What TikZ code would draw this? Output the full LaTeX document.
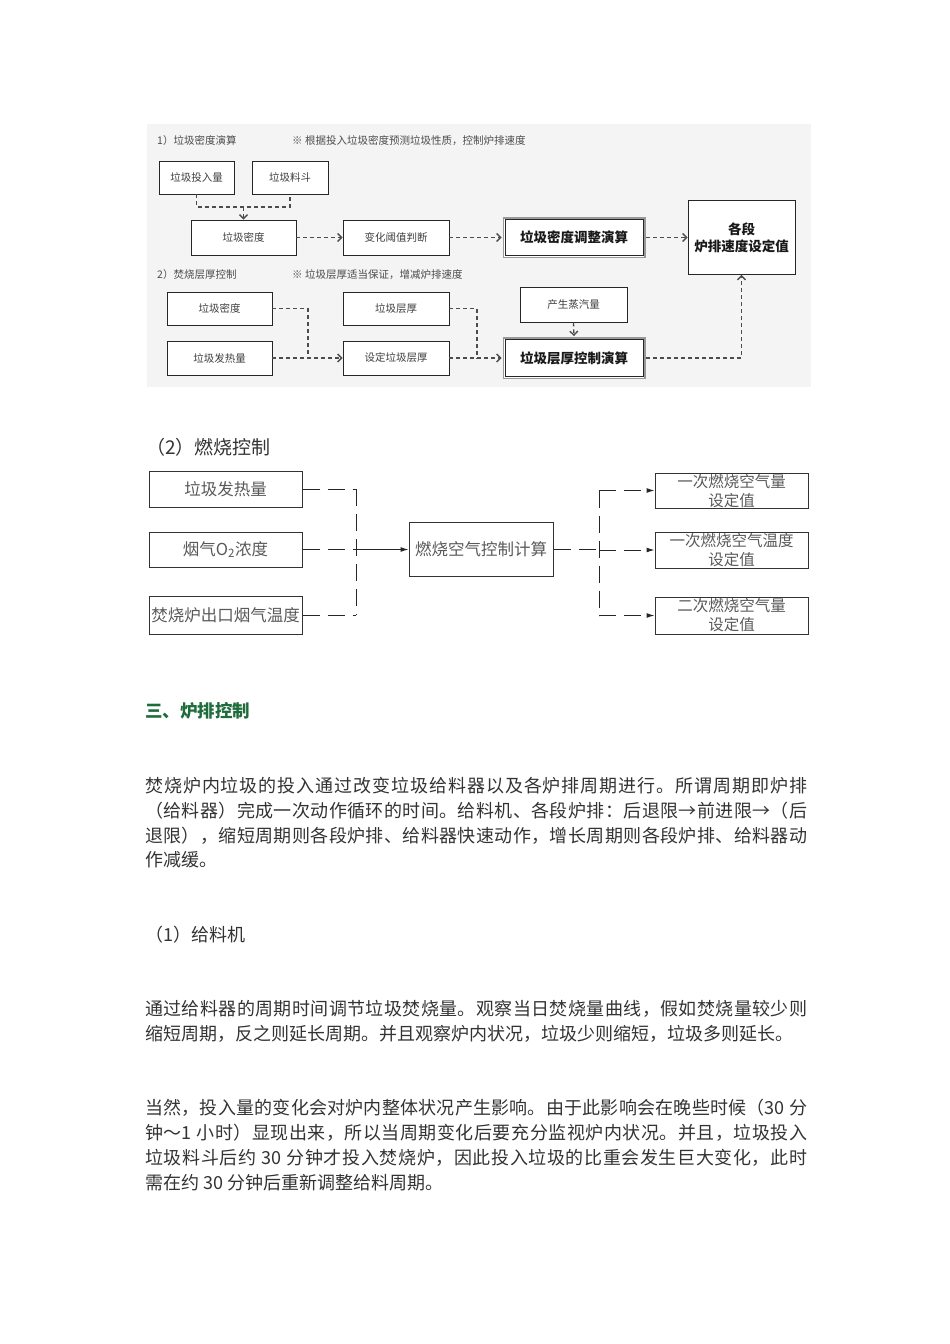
\documentclass[tikz,border=0pt]{standalone}
\usepackage{fontspec}
\setmainfont{Noto Sans CJK SC}
\usetikzlibrary{arrows.meta}

\definecolor{verde}{HTML}{1E6B3C}
\definecolor{sfondo}{HTML}{F4F4F4}

% classi dei caratteri CJK per le righe giustificate
\newcount\cc
\cc="4E00
\loop \XeTeXcharclass\cc=1 \advance\cc by 1 \ifnum\cc<"A000 \repeat
\XeTeXcharclass"3001=1 \XeTeXcharclass"3002=1 \XeTeXcharclass"FF0C=1
\XeTeXcharclass"FF1A=1 \XeTeXcharclass"FF5E=1 \XeTeXcharclass"2192=1
\XeTeXcharclass"FF08=2 \XeTeXcharclass"FF09=3
\XeTeXinterchartoks 1 1 = {\hskip 0pt plus 1pt}
\XeTeXinterchartoks 1 2 = {\hskip 0pt plus 1pt}
\XeTeXinterchartoks 1 3 = {\hskip 0pt plus 1pt}
\XeTeXinterchartoks 3 1 = {\hskip 0pt plus 1pt}
\XeTeXinterchartoks 3 2 = {\hskip 0pt plus 1pt}
\XeTeXinterchartoks 3 3 = {\hskip 0pt plus 1pt}
\XeTeXinterchartoks 2 1 = {\hskip 0pt plus 1pt}
\newcommand\riga[1]{\makebox[662pt][s]{\XeTeXinterchartokenstate=1 #1}}

\begin{document}
\begin{tikzpicture}[x=1pt, y=-1pt,
  tbox/.style={draw=black!85, line width=0.9pt, fill=white, inner sep=0pt, text=black!75, font=\fontsize{10.5}{12}\selectfont},
  dbox/.style={tbox, preaction={draw=black!40, line width=5pt}, preaction={draw=white, line width=2pt}, text=black!90, font=\fontsize{13.5}{16}\selectfont\bfseries},
  tline/.style={draw=black!70, line width=1.3pt, dash pattern=on 4pt off 3pt},
  tarrow/.style={tline, -{Straight Barb[length=4pt,width=8pt]}},
  cbox/.style={draw=black!80, line width=1pt, inner sep=0pt, text=black!65, font=\fontsize{16.5}{18}\selectfont},
  cline/.style={draw=black!85, line width=1pt, dash pattern=on 17pt off 8pt},
  carrow/.style={cline, -{Latex[length=8pt,width=5pt]}},
  nota/.style={anchor=west, inner sep=0pt, text=black!70, font=\fontsize{10.5}{12}\selectfont},
  testo/.style={anchor=west, inner sep=0pt, text=black!80, font=\fontsize{18}{25}\selectfont}]
\useasboundingbox (0,0) rectangle (950,1344);

% Sfondo del primo schema
\fill[sfondo] (147,124) rectangle (811,387);

% 1) densita
\node[nota] (tit1) at (157,141) {1）垃圾密度演算};
\node[nota] (not1) at (292,141) {※ 根据投入垃圾密度预测垃圾性质，控制炉排速度};
\node[tbox, minimum width=75, minimum height=33] (inAmt) at (196.5,177.5) {垃圾投入量};
\node[tbox, minimum width=76, minimum height=33] (hopper) at (290,177.5) {垃圾料斗};
\node[tbox, minimum width=105, minimum height=35] (dens) at (243.5,237.5) {垃圾密度};
\node[tbox, minimum width=106, minimum height=35] (judge) at (396,237.5) {变化阈值判断};
\node[dbox, minimum width=138, minimum height=36] (densCalc) at (574,237.5) {垃圾密度调整演算};
\node[tbox, minimum width=107, minimum height=74, align=center, text=black!90,
  font=\fontsize{13.5}{17}\selectfont\bfseries] (speed) at (741.5,237.5) {各段\\炉排速度设定值};
\coordinate (j1) at (243.5,207);
\draw[tline] (inAmt.south) -- (inAmt.south |- j1) -- (hopper.south |- j1) -- (hopper.south);
\draw[tarrow] (j1) -- (dens.north);
\draw[tarrow] (dens.east) -- (judge.west);
\draw[tarrow] (judge.east) -- ([xshift=-3pt]densCalc.west);
\draw[tarrow] ([xshift=3pt]densCalc.east) -- (speed.west);

% 2) spessore strato
\node[nota] (tit2) at (157,275) {2）焚烧层厚控制};
\node[nota] (not2) at (292,275) {※ 垃圾层厚适当保证，增减炉排速度};
\node[tbox, minimum width=105, minimum height=33] (dens2) at (219.5,308.5) {垃圾密度};
\node[tbox, minimum width=105, minimum height=34] (heat) at (219.5,358) {垃圾发热量};
\node[tbox, minimum width=106, minimum height=33] (layer) at (396,308.5) {垃圾层厚};
\node[tbox, minimum width=106, minimum height=34] (setLayer) at (396,358) {设定垃圾层厚};
\node[tbox, minimum width=107, minimum height=35] (steam) at (573.5,304.5) {产生蒸汽量};
\node[dbox, minimum width=138, minimum height=37] (layerCalc) at (574,358) {垃圾层厚控制演算};
\coordinate (j2) at (308,358);
\coordinate (j3) at (477,358);
\draw[tline] (dens2.east) -| (j2);
\draw[tarrow] (heat.east) -- (setLayer.west);
\draw[tline] (layer.east) -| (j3);
\draw[tarrow] (setLayer.east) -- ([xshift=-3pt]layerCalc.west);
\draw[tarrow] (steam.south) -- ([yshift=3pt]layerCalc.north);
\draw[tarrow] ([xshift=3pt]layerCalc.east) -| (speed.south);

% (2) combustione
\node[anchor=west, inner sep=0pt, text=black!80, font=\fontsize{19}{22}\selectfont] (tit3) at (146,447) {（2）燃烧控制};
\node[cbox, minimum width=153, minimum height=36] (b1) at (225.5,489) {垃圾发热量};
\node[cbox, minimum width=153, minimum height=35] (b2) at (225.5,549.5) {烟气O\textsubscript{2}浓度};
\node[cbox, minimum width=153, minimum height=38] (b3) at (225.5,615) {焚烧炉出口烟气温度};
\node[cbox, minimum width=144, minimum height=54] (calc) at (481,549.5) {燃烧空气控制计算};
\node[cbox, minimum width=153, minimum height=35] (r1) at (731.5,490.5) {};
\node[cbox, minimum width=153, minimum height=36] (r2) at (731.5,550) {};
\node[cbox, minimum width=153, minimum height=37] (r3) at (731.5,615.5) {};
\node[anchor=north, inner sep=0pt, align=center, text=black!65, font=\fontsize{15.5}{19}\selectfont] (r1t) at ([yshift=-1.5pt]r1.north) {一次燃烧空气量\\设定值};
\node[anchor=north, inner sep=0pt, align=center, text=black!65, font=\fontsize{15.5}{19}\selectfont] (r2t) at ([yshift=-1.5pt]r2.north) {一次燃烧空气温度\\设定值};
\node[anchor=north, inner sep=0pt, align=center, text=black!65, font=\fontsize{15.5}{19}\selectfont] (r3t) at ([yshift=-1.5pt]r3.north) {二次燃烧空气量\\设定值};
\coordinate (vs) at (356,0);
\coordinate (vd) at (599,0);
\draw[cline] (b1.east) -- (b1.east -| vs);
\draw[cline] (b2.east) -- (b2.east -| vs);
\draw[cline] (b3.east) -- (b3.east -| vs);
\draw[cline] (b1.east -| vs) -- (b3.east -| vs);
\draw[draw=black!85, line width=1pt, -{Latex[length=8pt,width=5pt]}] (b2.east -| vs) -- (calc.west);
\draw[cline] (calc.east) -- (calc.east -| vd);
\draw[cline] (r1.west -| vd) -- (r3.west -| vd);
\draw[carrow] (r1.west -| vd) -- (r1.west);
\draw[carrow] (r2.west -| vd) -- (r2.west);
\draw[carrow] (r3.west -| vd) -- (r3.west);

% Testo
\node[anchor=west, inner sep=0pt, text=verde, font=\fontsize{17.5}{20}\selectfont\bfseries] (sez3) at (145,711) {三、炉排控制};
\node[testo] (p1a) at (145,786) {\riga{焚烧炉内垃圾的投入通过改变垃圾给料器以及各炉排周期进行。所谓周期即炉排}};
\node[testo] (p1b) at (145,811) {\riga{（给料器）完成一次动作循环的时间。给料机、各段炉排：后退限→前进限→（后}};
\node[testo] (p1c) at (145,836) {\riga{退限），缩短周期则各段炉排、给料器快速动作，增长周期则各段炉排、给料器动}};
\node[testo] (p1d) at (145,860) {作减缓。};
\node[testo] (sub1) at (145,935) {（1）给料机};
\node[testo] (p2a) at (145,1009) {\riga{通过给料器的周期时间调节垃圾焚烧量。观察当日焚烧量曲线，假如焚烧量较少则}};
\node[testo] (p2b) at (145,1034) {缩短周期，反之则延长周期。并且观察炉内状况，垃圾少则缩短，垃圾多则延长。};
\node[testo] (p3a) at (145,1108) {\riga{当然，投入量的变化会对炉内整体状况产生影响。由于此影响会在晚些时候（30 分}};
\node[testo] (p3b) at (145,1133) {\riga{钟～1 小时）显现出来，所以当周期变化后要充分监视炉内状况。并且，垃圾投入}};
\node[testo] (p3c) at (145,1158) {\riga{垃圾料斗后约 30 分钟才投入焚烧炉，因此投入垃圾的比重会发生巨大变化，此时}};
\node[testo] (p3d) at (145,1183) {需在约 30 分钟后重新调整给料周期。};
\end{tikzpicture}
\end{document}
